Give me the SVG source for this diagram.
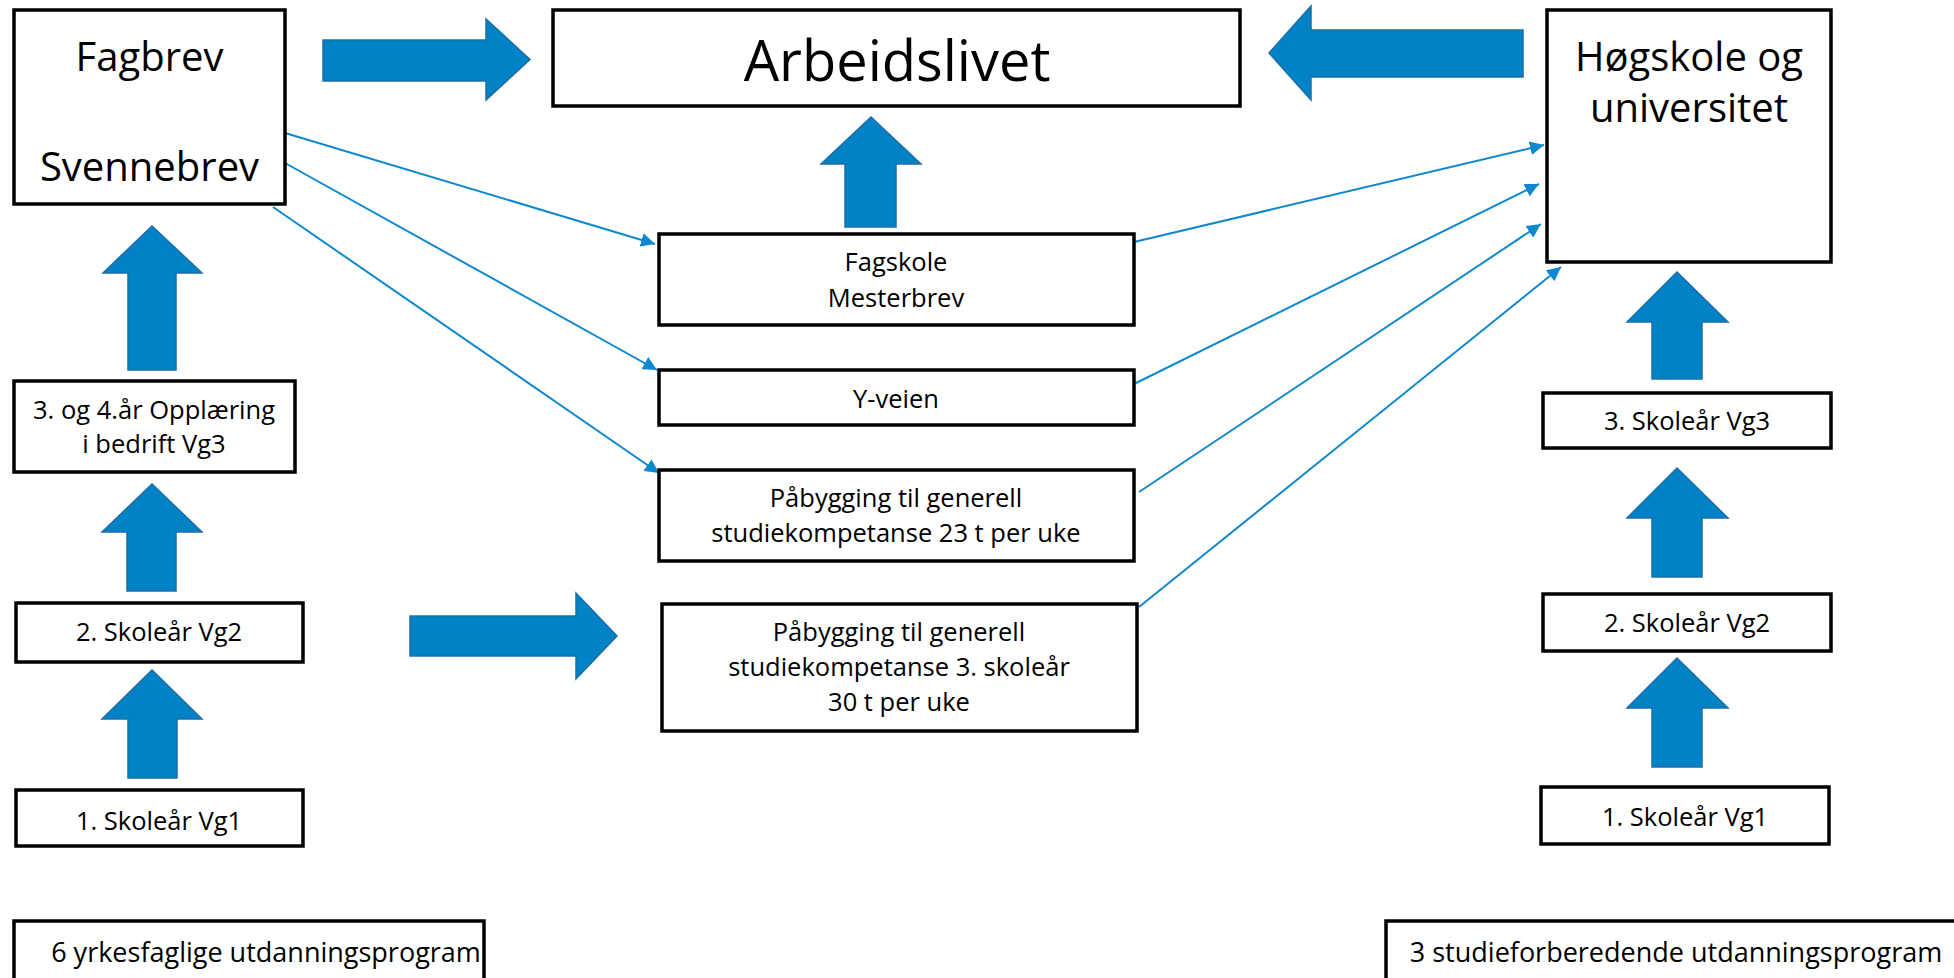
<svg xmlns="http://www.w3.org/2000/svg" width="1954" height="978" viewBox="0 0 1954 978">
<defs>
<style>
.box{fill:#fff;stroke:#000;stroke-width:3.5}
.t{font-family:"Open Sans","Liberation Sans",sans-serif;fill:#000;text-anchor:middle}
.big{font-size:40px}
.sm{font-size:25.5px}
.bt{font-size:27px}
.blk{fill:#0083C6;stroke:#1D6DA6;stroke-width:1.5}
.con{stroke:#0E88CF;stroke-width:2;fill:none;marker-end:url(#ah)}
</style>
<marker id="ah" viewBox="0 0 10 10" refX="10" refY="5" markerWidth="7" markerHeight="7" markerUnits="strokeWidth" orient="auto">
<path d="M0,0 L10,5 L0,10 z" fill="#0E88CF"/>
</marker>
</defs>
<rect width="1954" height="978" fill="#fff"/>

<g id="connectors">
<line class="con" x1="285" y1="133" x2="655" y2="244"/>
<line class="con" x1="285" y1="163" x2="657" y2="370"/>
<line class="con" x1="273" y1="207" x2="659" y2="473"/>
<line class="con" x1="1134" y1="242" x2="1544" y2="145"/>
<line class="con" x1="1134" y1="384" x2="1539" y2="184"/>
<line class="con" x1="1139" y1="492" x2="1541" y2="224"/>
<line class="con" x1="1139" y1="607" x2="1561" y2="267"/>
</g>

<g id="block-arrows">
<path class="blk" d="M323,40 H486 V19 L530,59.5 L486,100 V81 H323 Z"/>
<path class="blk" d="M1523,30 H1311 V6 L1269,53 L1311,100 V77 H1523 Z"/>
<path class="blk" d="M845,227 V164 H821 L871,117 L921,164 H896 V227 Z"/>
<path class="blk" d="M128,370 V273 H103 L152,226 L202,273 H176 V370 Z"/>
<path class="blk" d="M127,591 V532 H102 L152,484 L202,532 H176 V591 Z"/>
<path class="blk" d="M128,778 V719 H102 L152,670 L202,719 H177 V778 Z"/>
<path class="blk" d="M410,616 H576 V593 L617,636 L576,679 V656 H410 Z"/>
<path class="blk" d="M1652,379 V322 H1627 L1677,272 L1728,322 H1702 V379 Z"/>
<path class="blk" d="M1652,577 V518 H1627 L1677,468 L1728,518 H1702 V577 Z"/>
<path class="blk" d="M1652,767 V708 H1627 L1677,658 L1728,708 H1702 V767 Z"/>
</g>

<g id="fagbrev">
<rect class="box" x="14" y="10" width="271" height="194"/>
<text class="t big" x="149.5" y="71">Fagbrev</text>
<text class="t big" x="149.5" y="181">Svennebrev</text>
</g>

<g id="arbeidslivet">
<rect class="box" x="553" y="10" width="687" height="96"/>
<text class="t" x="897" y="81" font-size="56">Arbeidslivet</text>
</g>

<g id="hogskole">
<rect class="box" x="1547" y="10" width="284" height="252"/>
<text class="t big" x="1689" y="71">Høgskole og</text>
<text class="t big" x="1689" y="122">universitet</text>
</g>

<g id="fagskole">
<rect class="box" x="659" y="234" width="475" height="91"/>
<text class="t sm" x="896" y="271">Fagskole</text>
<text class="t sm" x="896" y="307">Mesterbrev</text>
</g>

<g id="y-veien">
<rect class="box" x="659" y="370" width="475" height="55"/>
<text class="t sm" x="896" y="408">Y-veien</text>
</g>

<g id="pabygging-23">
<rect class="box" x="659" y="470" width="475" height="91"/>
<text class="t sm" x="896" y="507">Påbygging til generell</text>
<text class="t sm" x="896" y="542">studiekompetanse 23 t per uke</text>
</g>

<g id="pabygging-30">
<rect class="box" x="662" y="604" width="475" height="127"/>
<text class="t sm" x="899" y="641">Påbygging til generell</text>
<text class="t sm" x="899" y="676">studiekompetanse 3. skoleår</text>
<text class="t sm" x="899" y="711">30 t per uke</text>
</g>

<g id="vg3-left">
<rect class="box" x="14" y="381" width="281" height="91"/>
<text class="t sm" x="154" y="419">3. og 4.år Opplæring</text>
<text class="t sm" x="154" y="453">i bedrift Vg3</text>
</g>

<g id="vg2-left">
<rect class="box" x="16" y="603" width="287" height="59"/>
<text class="t sm" x="159" y="641">2. Skoleår Vg2</text>
</g>

<g id="vg1-left">
<rect class="box" x="16" y="790" width="287" height="56"/>
<text class="t sm" x="159" y="830">1. Skoleår Vg1</text>
</g>

<g id="vg3-right">
<rect class="box" x="1543" y="393" width="288" height="55"/>
<text class="t sm" x="1687" y="430">3. Skoleår Vg3</text>
</g>

<g id="vg2-right">
<rect class="box" x="1543" y="594" width="288" height="57"/>
<text class="t sm" x="1687" y="632">2. Skoleår Vg2</text>
</g>

<g id="vg1-right">
<rect class="box" x="1541" y="787" width="288" height="57"/>
<text class="t sm" x="1685" y="826">1. Skoleår Vg1</text>
</g>

<g id="yrkesfag">
<rect class="box" x="14" y="921" width="470" height="70"/>
<text class="t bt" x="266" y="962">6 yrkesfaglige utdanningsprogram</text>
</g>

<g id="studieforberedende">
<rect class="box" x="1386" y="921" width="590" height="70"/>
<text class="t bt" x="1676" y="962">3 studieforberedende utdanningsprogram</text>
</g>
</svg>
